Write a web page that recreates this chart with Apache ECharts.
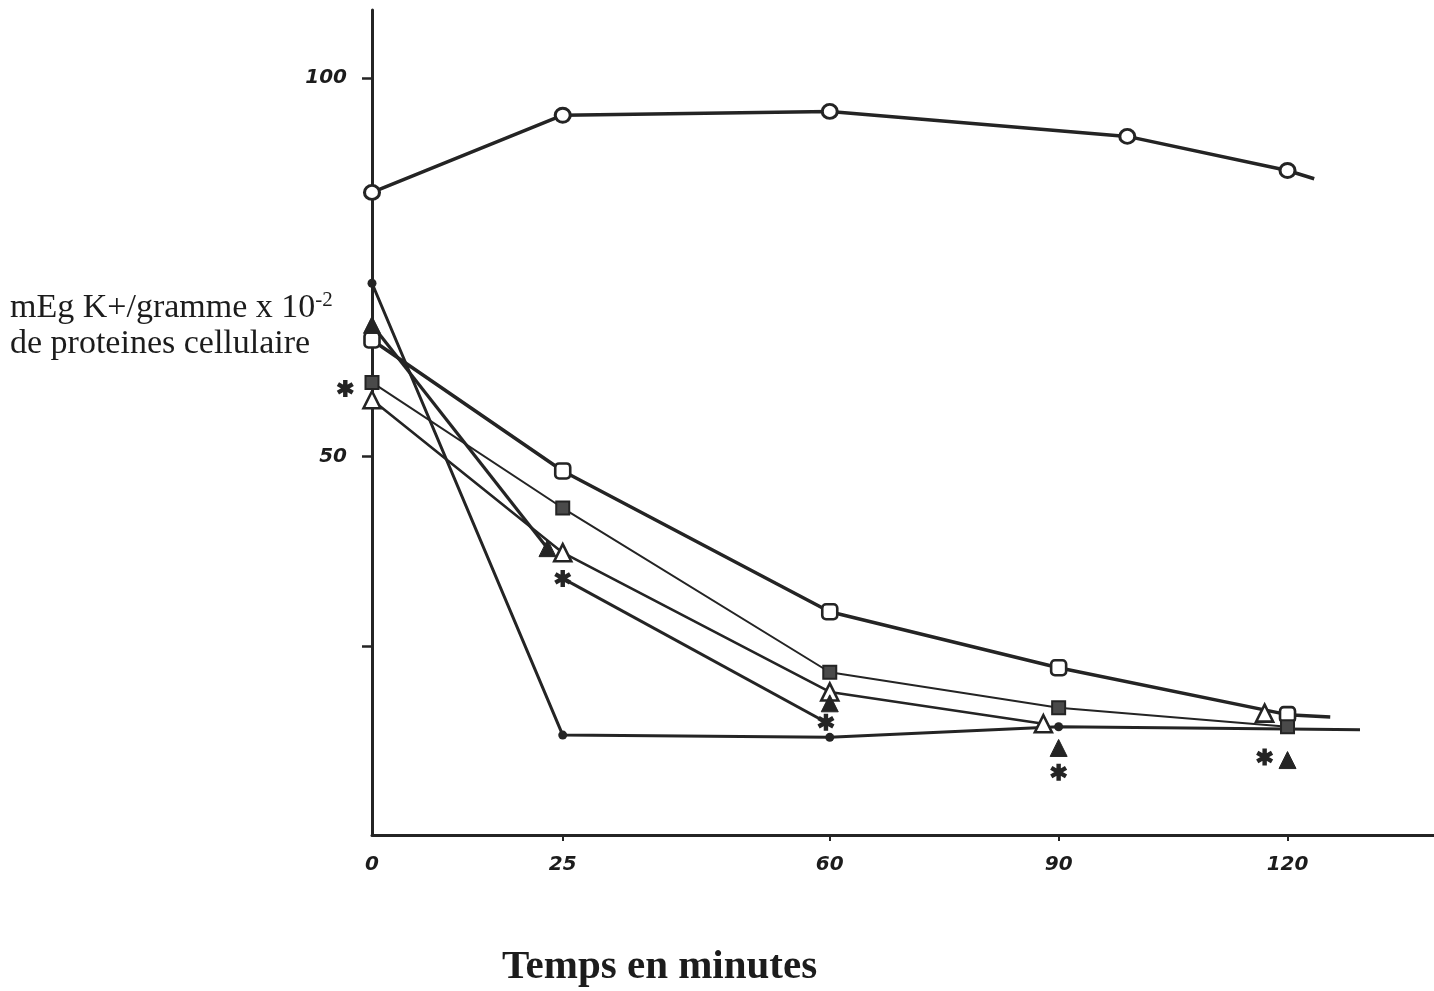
<!DOCTYPE html>
<html>
<head>
<meta charset="utf-8">
<script src="https://cdn.jsdelivr.net/npm/echarts@6/dist/echarts.min.js"></script>
<style>
  html, body { margin: 0; padding: 0; background: #ffffff; }
  #chart { width: 1434px; height: 991px; }
</style>
</head>
<body>
<div id="chart"></div>
<script>
// Axis ticks and labels
const xTickValues = [0, 25, 60, 90, 120];
const yLabelValues = [50, 100];
const yTickValues = [25, 50, 100];

// Potassium content (mEq K+/g protein x 10^-2) over time, one array per curve
const openCircle     = [[0, 84.9], [25, 95.1], [60, 95.6], [99, 92.3], [120, 87.8]];
const filledDot      = [[0, 72.9], [25, 13.2], [60, 12.9], [90, 14.3], [120, 14.0]];
const openSquare     = [[0, 65.4], [25, 48.1], [60, 29.5], [90, 22.1], [120, 15.9]];
const filledSquare   = [[0, 59.8], [25, 43.2], [60, 21.5], [90, 16.8], [120, 14.3]];
const openTriangle   = [[0, 57.5], [25, 37.3], [60, 18.9], [88, 14.7], [117, 16.1]];
const filledTriangle = [[0, 67.4], [23, 37.9], [60, 17.4], [90, 11.5], [120, 9.9]];
const asterisk       = [[-3.5, 59.0], [25, 33.9], [59.5, 14.9], [90, 8.3], [117, 10.3]];

// Which points are joined by a stroke, and trailing strokes past the last point
const openCircleJoin = [0, 4],     openCircleTail = [123.5, 86.7];
const filledDotJoin = [0, 4],      filledDotTail = [129.5, 13.9];
const openSquareJoin = [0, 4],     openSquareTail = [125.6, 15.6];
const filledSquareJoin = [0, 4];
const openTriangleJoin = [0, 3];
const filledTriangleJoin = [0, 1];
const asteriskJoin = [1, 2];

const INK = '#242424';
const starPath = 'path://M-1.3,-5 L1.3,-5 L1.3,5 L-1.3,5 Z ' +
  'M-4.98,-1.38 L-3.68,-3.63 L4.98,1.38 L3.68,3.63 Z ' +
  'M3.68,-3.63 L4.98,-1.38 L-3.68,3.63 L-4.98,1.38 Z';

function lineSeries(points, join, tail, width) {
  const data = points.slice(join[0], join[1] + 1);
  if (tail) data.push(tail);
  return {
    type: 'line', data: data, showSymbol: false, symbol: 'none',
    lineStyle: { color: INK, width: width }, z: 2, silent: true, animation: false
  };
}
function markerSeries(points, symbol, size, fill, border, borderWidth) {
  return {
    type: 'scatter', data: points, symbol: symbol, symbolSize: size, clip: false,
    itemStyle: { color: fill, borderColor: border, borderWidth: borderWidth, opacity: 1 },
    z: 5, silent: true, animation: false
  };
}

const tickFont = { color: '#1c1c1c', fontFamily: 'DejaVu Sans', fontStyle: 'italic',
                   fontWeight: 'bold', fontSize: 20 };

const chart = echarts.init(document.getElementById('chart'), null, { renderer: 'canvas' });
chart.setOption({
  backgroundColor: '#ffffff',
  animation: false,
  grid: { left: 372, right: 0, top: 10, bottom: 156, containLabel: false },
  xAxis: {
    type: 'value', min: 0, max: 139.2,
    splitLine: { show: false },
    axisLine: { show: true, onZero: false, lineStyle: { color: INK, width: 3 } },
    axisTick: { show: true, customValues: xTickValues.slice(1), length: 6, inside: false,
                lineStyle: { color: INK, width: 2 } },
    axisLabel: Object.assign({ customValues: xTickValues, margin: 20 }, tickFont)
  },
  yAxis: {
    type: 'value', min: 0, max: 109,
    splitLine: { show: false },
    axisLine: { show: true, onZero: false, lineStyle: { color: INK, width: 3 } },
    axisTick: { show: true, customValues: yTickValues, length: 10,
                lineStyle: { color: INK, width: 2.5 } },
    axisLabel: Object.assign({ customValues: yLabelValues, margin: 25 }, tickFont)
  },
  graphic: [
    {
      type: 'text', left: 10, top: 290, silent: true,
      style: {
        text: '{a|mEg K+/gramme x 10}{s|-2}\n{a|de proteines cellulaire}',
        rich: {
          a: { fontFamily: 'Liberation Serif', fontSize: 34, lineHeight: 36, fill: '#1c1c1c' },
          s: { fontFamily: 'Liberation Serif', fontSize: 21, lineHeight: 36, fill: '#1c1c1c',
               verticalAlign: 'top', padding: [0, 0, 16, 0] }
        }
      }
    },
    {
      type: 'text', left: 502, top: 947, silent: true,
      style: { text: 'Temps en minutes', fontFamily: 'Liberation Serif', fontWeight: 'bold',
               fontSize: 41, fill: '#1c1c1c' }
    }
  ],
  series: [
    lineSeries(openCircle, openCircleJoin, openCircleTail, 3.5),
    lineSeries(filledDot, filledDotJoin, filledDotTail, 3),
    lineSeries(openSquare, openSquareJoin, openSquareTail, 3.5),
    lineSeries(filledSquare, filledSquareJoin, null, 2),
    lineSeries(openTriangle, openTriangleJoin, null, 2.6),
    lineSeries(filledTriangle, filledTriangleJoin, null, 3.2),
    lineSeries(asterisk, asteriskJoin, null, 3),
    markerSeries(openCircle, 'circle', [15, 14], '#ffffff', INK, 3),
    markerSeries(filledDot, 'circle', 9, INK, INK, 0),
    markerSeries(openSquare, 'roundRect', 15, '#ffffff', INK, 2.6),
    markerSeries(filledSquare, 'rect', 13, '#4a4a4a', INK, 2),
    markerSeries(openTriangle, 'triangle', 17, '#ffffff', INK, 2.6),
    markerSeries(filledTriangle, 'triangle', 17, INK, INK, 1),
    markerSeries(asterisk, starPath, 17, INK, INK, 0)
  ]
});
</script>
</body>
</html>
